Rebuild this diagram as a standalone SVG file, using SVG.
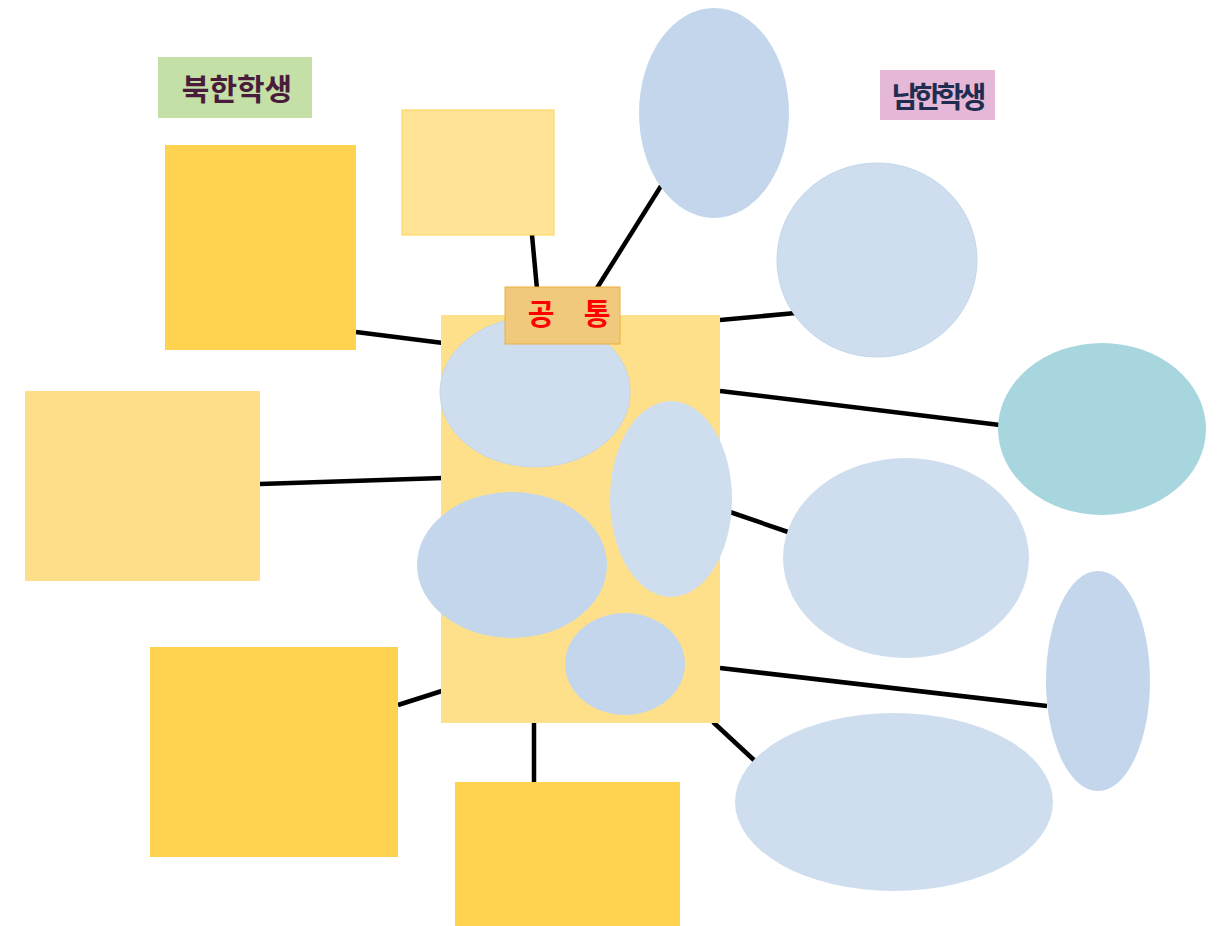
<svg xmlns="http://www.w3.org/2000/svg" width="1229" height="926" viewBox="0 0 1229 926">
<style>
.conn line{stroke:#000;stroke-width:4.5;stroke-linecap:butt}
.sq{fill:#ffd350}
.sql{fill:#fede88}
.el{fill:#cfdeee}
.eld{fill:#c3d6ec}
.lbl{font-family:"Noto Sans CJK KR","Noto Sans",sans-serif;font-weight:bold;text-anchor:middle}
</style>
<rect width="1229" height="926" fill="#fff"/>
<g class="conn" id="connectors">
<line x1="356" y1="332" x2="443" y2="343"/>
<line x1="260" y1="484" x2="443" y2="478"/>
<line x1="398" y1="705" x2="445" y2="690"/>
<line x1="534" y1="722" x2="534" y2="782"/>
<line x1="532" y1="235" x2="537" y2="289"/>
<line x1="597" y1="288" x2="661" y2="186"/>
<line x1="720" y1="320" x2="796" y2="313"/>
<line x1="720" y1="391" x2="1000" y2="425"/>
<line x1="730" y1="512" x2="788" y2="532"/>
<line x1="720" y1="668" x2="1047" y2="706"/>
<line x1="713" y1="722" x2="755" y2="761"/>
</g>
<g id="label-north"><rect x="158" y="57" width="154" height="61" fill="#c4e0a6"/><text class="lbl" x="237" y="100" font-size="30" fill="#4a1c3c">북한학생</text></g>
<g id="label-south"><rect x="880" y="70" width="115" height="50" fill="#e6b8d8"/><text class="lbl" x="937" y="108" font-size="29" letter-spacing="-4" fill="#1f2d50">남한학생</text></g>
<g id="sq-left-top"><rect class="sq" x="165" y="145" width="191" height="205"/></g>
<g id="sq-top"><rect x="402" y="110" width="152" height="125" fill="#ffe396" stroke="#ffd450" stroke-width="1"/></g>
<g id="sq-left-mid"><rect class="sql" x="25" y="391" width="235" height="190"/></g>
<g id="sq-left-bottom"><rect class="sq" x="150" y="647" width="248" height="210"/></g>
<g id="sq-bottom"><rect class="sq" x="455" y="782" width="225" height="144"/></g>
<g id="center"><rect x="441" y="315" width="279" height="408" fill="#fee08b"/></g>
<g id="in-top"><ellipse class="el" cx="535" cy="392" rx="95" ry="75" stroke="#c3d6ec" stroke-width="1"/></g>
<g id="in-right"><ellipse class="el" cx="671" cy="499" rx="61" ry="98"/></g>
<g id="in-left"><ellipse class="eld" cx="512" cy="565" rx="95" ry="73"/></g>
<g id="in-bottom"><ellipse class="eld" cx="625" cy="664" rx="60" ry="51"/></g>
<g id="common"><rect x="505" y="287" width="115" height="57" fill="#f1c97d" stroke="#e8b040" stroke-width="1"/><text class="lbl" x="541 568 597" y="325" font-size="29" fill="#ff0000">공 통</text></g>
<g id="el-top"><ellipse class="eld" cx="714" cy="113" rx="75" ry="105"/></g>
<g id="el-right-top"><ellipse class="el" cx="877" cy="260" rx="100" ry="97" stroke="#c3d6ec" stroke-width="1"/></g>
<g id="el-teal"><ellipse cx="1102" cy="429" rx="104" ry="86" fill="#a7d6de"/></g>
<g id="el-right-mid"><ellipse class="el" cx="906" cy="558" rx="123" ry="100"/></g>
<g id="el-right-narrow"><ellipse class="eld" cx="1098" cy="681" rx="52" ry="110"/></g>
<g id="el-bottom"><ellipse class="el" cx="894" cy="802" rx="159" ry="89"/></g>
</svg>
